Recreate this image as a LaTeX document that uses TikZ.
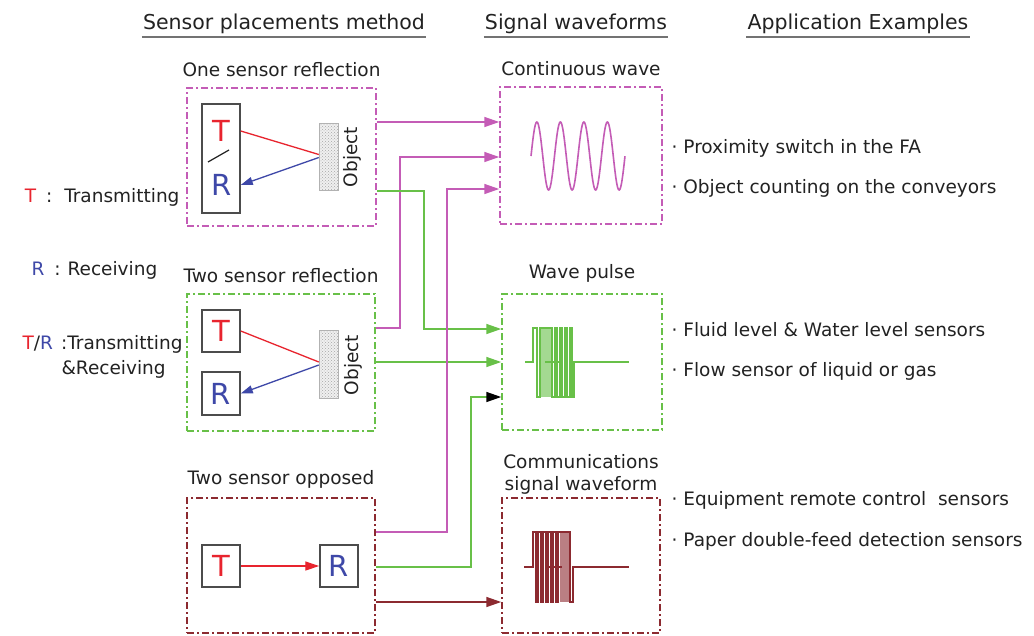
\documentclass[tikz,border=0pt]{standalone}
\usepackage{fontspec}
\setmainfont{DejaVu Sans}
\usepackage{xcolor}
\usetikzlibrary{positioning, arrows.meta, patterns}

\definecolor{magline}{RGB}{196,92,182}
\definecolor{greenline}{RGB}{104,192,72}
\definecolor{darkline}{RGB}{140,42,48}
\definecolor{tred}{RGB}{232,36,46}
\definecolor{rblue}{RGB}{62,72,168}
\definecolor{textgray}{RGB}{34,34,34}

\newcommand{\bodyfont}{\fontsize{18.5}{22}\selectfont}
\newcommand{\headfont}{\fontsize{20.5}{24}\selectfont}
\newcommand{\bigfont}{\fontsize{29}{32}\selectfont}

\tikzset{
  dotframe/.style={dash pattern=on 7pt off 3pt on 2pt off 3pt, line width=1.5pt},
  heading/.style={anchor=south, font=\headfont, inner xsep=1pt},
  headline/.style={draw=gray!90!black, line width=2.8pt},
  sensorbox/.style={draw=gray!60!black, line width=1.5pt, minimum width=38pt, minimum height=42pt, inner sep=0pt, font=\bigfont},
  object/.style={draw=gray!60, preaction={fill=gray!12}, pattern=crosshatch dots, pattern color=gray!70, minimum width=19pt, minimum height=67pt, inner sep=0pt},
  objlabel/.style={rotate=90},
  tip/.style={-{Triangle[length=15pt, width=10pt]}},
  smalltip/.style={-{Triangle[length=12pt, width=8pt]}},
  magarrow/.style={draw=magline, line width=1.5pt, tip},
  greenarrow/.style={draw=greenline, line width=1.5pt, tip},
  darkarrow/.style={draw=darkline, line width=1.5pt, tip},
  apptext/.style={anchor=west},
}

\begin{document}
\begin{tikzpicture}[x=1pt, y=-1pt, font=\bodyfont, text=textgray]
\useasboundingbox[fill=white] (0,0) rectangle (1034,635);

% column headings
\node[heading] (head1) at (284,37) {Sensor placements method};
\node[heading] (head2) at (576,37) {Signal waveforms};
\node[heading] (head3) at (858,37) {Application Examples};
\foreach \h in {head1,head2,head3}
  \draw[headline] (\h.south west) -- (\h.south east);

% legend
\node[anchor=east] (leg1) at (183,197) {\textcolor{tred}{T}\hspace{10pt}:\hspace{12pt}Transmitting};
\node[anchor=west] (leg2) at (28,270) {\textcolor{rblue}{R}\hspace{10pt}:\hspace{7pt}Receiving};
\node[anchor=east] (leg3) at (186,344) {\textcolor{tred}{T}/\textcolor{rblue}{R}\hspace{8pt}:Transmitting};
\node[anchor=west] (leg4) at (58,369) {\&Receiving};

% sensor placement boxes
\node[dotframe, draw=magline, minimum width=189pt, minimum height=138pt] (place1) at (281.5,157) {};
\node[dotframe, draw=greenline, minimum width=188pt, minimum height=137pt] (place2) at (281,362.5) {};
\node[dotframe, draw=darkline, minimum width=188pt, minimum height=135pt] (place3) at (281,565.5) {};
\node[above=7pt of place1] (title1) {One sensor reflection};
\node[above=7pt of place2] (title2) {Two sensor reflection};
\node[above=5pt of place3] (title3) {Two sensor opposed};

% one sensor reflection
\node[sensorbox, minimum height=109pt] (tr1) at (221,158.5) {};
\node[font=\bigfont, text=tred] (t1) at (221,131) {T};
\node[font=\bigfont, text=rblue] (r1) at (222,185) {R};
\draw[line width=1.2pt, textgray] (208,162) -- (229,150);
\node[object] (obj1) at (328.5,156.5) {};
\node[objlabel] (lab1) at (352,157) {Object};
\draw[tred, line width=1.3pt] (tr1.east |- t1) -- ([yshift=2pt]obj1.west);
\draw[rblue, line width=1.3pt, smalltip] ([yshift=-1pt]obj1.west) -- (tr1.east |- r1);

% two sensor reflection
\node[sensorbox, text=tred] (t2) at (221,331) {T};
\node[sensorbox, text=rblue, minimum height=43pt] (r2) at (221,393.5) {R};
\node[object, minimum height=68pt] (obj2) at (328.5,364) {};
\node[objlabel] (lab2) at (353,365) {Object};
\draw[tred, line width=1.3pt] (t2.east) -- ([yshift=2pt]obj2.west);
\draw[rblue, line width=1.3pt, smalltip] ([yshift=-1pt]obj2.west) -- (r2.east);

% two sensor opposed
\node[sensorbox, text=tred] (t3) at (221,566) {T};
\node[sensorbox, text=rblue] (r3) at (339,566) {R};
\draw[tred, line width=1.3pt, -{Triangle[length=14pt, width=9pt]}] (t3) -- (r3);

% waveform boxes
\node[dotframe, draw=magline, minimum width=162pt, minimum height=137pt] (wave1) at (581,155.5) {};
\node[dotframe, draw=greenline, minimum width=160pt, minimum height=136pt] (wave2) at (582,362) {};
\node[dotframe, draw=darkline, minimum width=158pt, minimum height=135pt] (wave3) at (581,565.5) {};
\node[above=7pt of wave1] (title4) {Continuous wave};
\node[above=7pt of wave2] (title5) {Wave pulse};
\node[above=3pt of wave3, align=center, inner sep=0pt] (title6) {Communications\\signal waveform};

% continuous wave
\draw[magline, line width=1.6pt] plot[domain=0:4, samples=200] ({531+23.5*\x},{156-34*sin(360*\x)});

% wave pulse
\fill[greenline!60] (540,328) rectangle (552,397);
\draw[greenline, line width=1.3pt] (525,362) -- (533,362) -- (533,328) -- (537,328) -- (537,397) -- (540,397)
  -- (540,328) -- (552,328) -- (552,397) -- (555,397) -- (555,328) -- (557,328) -- (557,397)
  -- (560,397) -- (560,328) -- (562,328) -- (562,397) -- (565,397) -- (565,328) -- (567,328)
  -- (567,397) -- (570,397) -- (570,328) -- (572,328) -- (572,397) -- (574,397) -- (574,362) -- (629,362);
\draw[greenline, line width=1.3pt] (545,362) -- (563,362);

% communications signal
\fill[darkline!60] (560,532) rectangle (570,602);
\draw[darkline, line width=1.3pt] (524,567) -- (533,567) -- (533,532) -- (536,532) -- (536,602) -- (538,602)
  -- (538,532) -- (541,532) -- (541,602) -- (543,602) -- (543,532) -- (546,532) -- (546,602)
  -- (548,602) -- (548,532) -- (551,532) -- (551,602) -- (553,602) -- (553,532) -- (556,532)
  -- (556,602) -- (558,602) -- (558,532) -- (570,532) -- (570,602) -- (573,602) -- (573,567) -- (629,567);
\draw[darkline, line width=1.3pt] (546,567) -- (562,567);

% connectors
\draw[magarrow] (place1.east |- 0,122) -- (wave1.west |- 0,122);
\draw[magarrow] (place2.east |- 0,328) -- (400,328) |- (wave1.west |- 0,157);
\draw[greenarrow] (place1.east |- 0,191) -- (424,191) |- (wave2.west |- 0,329);
\draw[greenarrow] (place2.east |- 0,362) -- (wave2.west |- 0,362);
\draw[greenarrow, -{Triangle[length=15pt, width=10pt, black]}] (place3.east |- 0,567) -- (471,567) |- (wave2.west |- 0,397);
\draw[magarrow] (place3.east |- 0,532) -- (447,532) |- (wave1.west |- 0,189);
\draw[darkarrow] (place3.east |- 0,602) -- (wave3.west |- 0,602);

% application examples
\node[apptext] (app1) at (668,148) {·\hspace{6pt}Proximity switch in the FA};
\node[apptext] (app2) at (668,188) {·\hspace{6pt}Object counting on the conveyors};
\node[apptext] (app3) at (668,330) {·\hspace{6pt}Fluid level \& Water level sensors};
\node[apptext] (app4) at (668,371) {·\hspace{6pt}Flow sensor of liquid or gas};
\node[apptext] (app5) at (668,500) {·\hspace{6pt}Equipment remote control\ \ sensors};
\node[apptext] (app6) at (668,541) {·\hspace{6pt}Paper double-feed detection sensors};
\end{tikzpicture}
\end{document}
